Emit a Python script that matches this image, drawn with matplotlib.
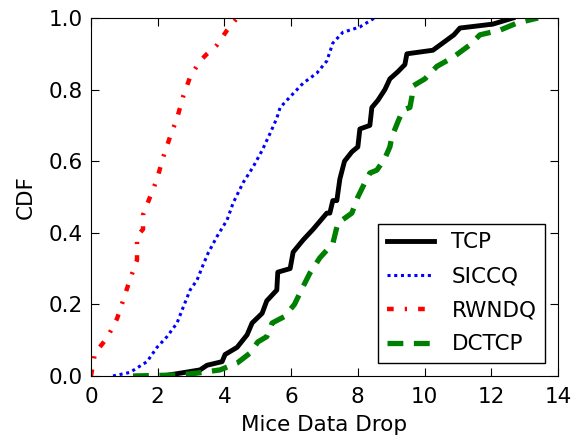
import matplotlib
matplotlib.use("Agg")
from matplotlib import pyplot as plt

# CDF curves (x = mice data drop, y = CDF)
tcp_x = [2.16, 3.27, 3.48, 3.93, 4.02, 4.38, 4.68, 4.83, 5.13, 5.27, 5.57, 5.6, 5.97,
         6.06, 6.36, 6.66, 7.07, 7.16, 7.25, 7.37, 7.46, 7.6, 7.82, 8.0, 8.06, 8.36,
         8.42, 8.6, 8.81, 8.96, 9.2, 9.41, 9.47, 10.25, 10.88, 11.06, 12.05, 12.65]
tcp_y = [0.0, 0.017, 0.03, 0.04, 0.06, 0.08, 0.115, 0.148, 0.175, 0.21, 0.24, 0.29, 0.30,
         0.346, 0.38, 0.41, 0.455, 0.455, 0.49, 0.49, 0.55, 0.60, 0.626, 0.64, 0.69, 0.70,
         0.75, 0.77, 0.80, 0.83, 0.85, 0.87, 0.90, 0.91, 0.953, 0.972, 0.983, 1.0]

siccq_x = [0.66, 1.17, 1.68, 1.98, 2.28, 2.58, 2.73, 2.97, 3.18, 3.36, 3.51, 3.78, 4.08,
           4.26, 4.56, 4.86, 5.13, 5.37, 5.57, 5.67, 5.97, 6.36, 6.77, 7.07, 7.25, 7.55,
           8.06, 8.5]
siccq_y = [0.0, 0.01, 0.04, 0.08, 0.11, 0.148, 0.184, 0.24, 0.268, 0.31, 0.343, 0.39, 0.436,
           0.483, 0.54, 0.584, 0.63, 0.678, 0.72, 0.75, 0.78, 0.818, 0.846, 0.88, 0.93, 0.96,
           0.975, 1.0]

rwndq_x = [0.0, 0.12, 0.48, 0.78, 0.96, 1.17, 1.38, 1.38, 1.38, 1.56, 1.56, 1.77, 1.98,
           2.16, 2.37, 2.58, 2.76, 2.97, 3.27, 3.48, 3.78, 4.08, 4.38]
rwndq_y = [0.0, 0.064, 0.106, 0.16, 0.21, 0.27, 0.324, 0.36, 0.39, 0.41, 0.45, 0.50, 0.55,
           0.61, 0.668, 0.72, 0.78, 0.835, 0.88, 0.90, 0.925, 0.966, 1.0]

dctcp_x = [1.26, 2.67, 3.18, 3.87, 4.38, 4.77, 5.0, 5.27, 5.43, 5.8, 6.1, 6.36, 6.56, 6.86,
           7.25, 7.4, 7.82, 8.0, 8.21, 8.36, 8.57, 8.81, 8.96, 9.02, 9.2, 9.35, 9.56, 9.62,
           9.65, 10.01, 10.37, 10.85, 11.36, 11.66, 12.26, 12.77, 13.4]
dctcp_y = [0.0, 0.003, 0.008, 0.017, 0.036, 0.064, 0.095, 0.11, 0.148, 0.166, 0.2, 0.25,
           0.287, 0.33, 0.37, 0.427, 0.455, 0.5, 0.54, 0.567, 0.575, 0.608, 0.64, 0.668,
           0.71, 0.743, 0.75, 0.78, 0.81, 0.83, 0.865, 0.89, 0.925, 0.953, 0.966, 0.986, 1.0]

x_ticks = [0, 2, 4, 6, 8, 10, 12, 14]
y_ticks = [0.0, 0.2, 0.4, 0.6, 0.8, 1.0]

plt.rcParams["font.family"] = "DejaVu Sans"
fs = 15.5

fig = plt.figure(figsize=(5.87, 4.46), dpi=100)
ax = fig.add_axes([0.155, 0.157, 0.7956, 0.8026])

ax.plot(tcp_x, tcp_y, color="black", lw=3.5, ls="-", label="TCP")
ax.plot(siccq_x, siccq_y, color="blue", lw=2.2, ls=(0, (1, 1.2)), label="SICCQ")
ax.plot(rwndq_x, rwndq_y, color="red", lw=3.2, ls=(0, (1.5, 2.5, 0.5, 2.5)), label="RWNDQ")
ax.plot(dctcp_x, dctcp_y, color="green", lw=3.8, ls=(0, (3, 2)), label="DCTCP")

ax.set_xlim(0, 14)
ax.set_ylim(0, 1.0)
ax.set_xticks(x_ticks)
ax.set_yticks(y_ticks)
ax.set_xticklabels([str(t) for t in x_ticks])
ax.set_yticklabels(["%.1f" % t for t in y_ticks])
ax.tick_params(direction="in", top=True, right=True, length=6, labelsize=fs)
ax.tick_params(axis="x", pad=8)
ax.tick_params(axis="y", pad=6)
ax.set_xlabel("Mice Data Drop", fontsize=fs, labelpad=6)
ax.set_ylabel("CDF", fontsize=fs, labelpad=9)

leg = ax.legend(loc="lower right", fontsize=fs, fancybox=False, framealpha=1,
                edgecolor="black", borderaxespad=0.6, handlelength=2.2, labelspacing=0.65)
leg.get_frame().set_linewidth(1.0)

fig.savefig("out.png", dpi=100)
